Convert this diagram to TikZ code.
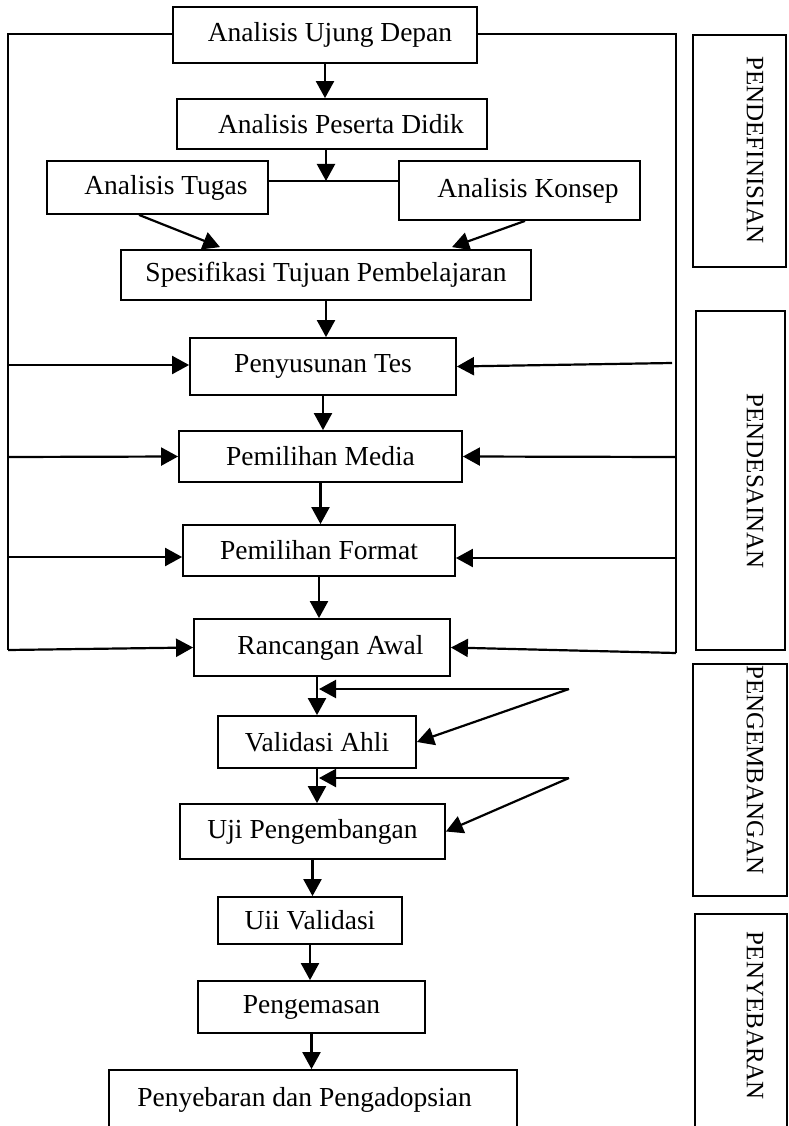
\documentclass[tikz,border=0pt]{standalone}
\usepackage{fontspec}
\setmainfont{Liberation Serif}
\usetikzlibrary{arrows.meta}
\begin{document}
\begin{tikzpicture}[x=1pt,y=-1pt,
  box/.style={draw, line width=1.8pt, inner sep=0pt, font=\fontsize{27.5}{33}\selectfont},
  side/.style={draw, line width=1.6pt, inner sep=0pt},
  lbl/.style={rotate=-90, font=\fontsize{25}{30}\selectfont, inner sep=0pt},
  arr/.style={line width=2.2pt, -{Triangle[length=17pt,width=18pt]}},
  ln/.style={line width=2.2pt}]
\useasboundingbox (0,0) rectangle (789,1126);

% main boxes
\node[box, minimum width=304pt, minimum height=56pt] (ud) at (325,35) {\hspace*{10pt}Analisis Ujung Depan};
\node[box, minimum width=310pt, minimum height=50pt] (pd) at (332,124) {\hspace*{18pt}Analisis Peserta Didik};
\node[box, minimum width=221pt, minimum height=53pt] (tg) at (157.5,187.5) {\hspace*{17pt}Analisis Tugas};
\node[box, minimum width=241pt, minimum height=59pt] (ks) at (519.5,190.5) {\hspace*{17pt}Analisis Konsep};
\node[box, minimum width=410pt, minimum height=50pt] (sp) at (326,275) {Spesifikasi Tujuan Pembelajaran};
\node[box, minimum width=266pt, minimum height=57pt] (pt) at (323,366.5) {Penyusunan Tes};
\node[box, minimum width=283pt, minimum height=51pt] (pm) at (320.5,456.5) {Pemilihan Media};
\node[box, minimum width=272pt, minimum height=51pt] (pf) at (319,550.5) {Pemilihan Format};
\node[box, minimum width=256pt, minimum height=57pt] (ra) at (322,647.5) {\hspace*{17pt}Rancangan Awal};
\node[box, minimum width=198pt, minimum height=52pt] (va) at (317,742) {Validasi Ahli};
\node[box, minimum width=265pt, minimum height=55pt] (up) at (312.5,831.5) {Uji Pengembangan};
\node[box, minimum width=184pt, minimum height=47pt] (uv) at (310,920.5) {Uii Validasi};
\node[box, minimum width=227pt, minimum height=52pt] (pg) at (311.5,1007) {Pengemasan};
\node[box, minimum width=408pt, minimum height=60pt] (pp) at (313,1100) {Penyebaran dan Pengadopsian\hspace*{17pt}};

% side boxes
\node[side, minimum width=93pt, minimum height=232pt] (s1) at (739.5,151) {};
\node[side, minimum width=89pt, minimum height=339pt] (s2) at (740.5,480.5) {};
\node[side, minimum width=94pt, minimum height=232pt] (s3) at (740,780) {};
\node[side, minimum width=92pt, minimum height=226pt] (s4) at (741,1027) {};
\node[lbl] (t1) at (755,150) {PENDEFINISIAN};
\node[lbl] (t2) at (755,481) {PENDESAINAN};
\node[lbl] (t3) at (755,770) {PENGEMBANGAN};
\node[lbl] (t4) at (755,1016) {PENYEBARAN};

% frame lines
\coordinate (TL) at (8,34);
\coordinate (BL) at (8,650);
\coordinate (TR) at (676,34);
\coordinate (BR) at (676,653);
\draw[ln] (ud.west |- TL) -- (TL) -- (BL);
\draw[ln] (ud.east |- TR) -- (TR) -- (BR);

% left arrows
\coordinate (L1) at (8,365);
\coordinate (L2) at (8,457);
\coordinate (L3) at (8,557);
\draw[arr] (L1) -- (L1 -| pt.west);
\draw[arr] (L2) -- (pm.west);
\draw[arr] (L3) -- (L3 -| pf.west);
\draw[arr] (BL) -- (ra.west);

% right arrows
\coordinate (R1) at (672,363);
\coordinate (R2) at (676,457);
\coordinate (R3) at (676,558);
\draw[arr] (R1) -- (pt.east);
\draw[arr] (R2) -- (pm.east);
\draw[arr] (R3) -- (R3 -| pf.east);
\draw[arr] (BR) -- (ra.east);

% top flow
\draw[arr] (ud.south) -- (ud.south |- pd.north);
\coordinate (J) at (326,181);
\draw[ln] (tg.east |- J) -- (ks.west |- J);
\draw[arr] (pd.south -| J) -- (J);
\draw[arr] ([xshift=-18.5pt]tg.south) -- ([xshift=-106pt,yshift=2pt]sp.north);
\draw[arr] ([xshift=5.5pt]ks.south) -- ([xshift=126pt,yshift=2pt]sp.north);
\draw[arr] (sp.south) -- (sp.south |- pt.north);
\draw[arr] (pt.south) -- (pt.south |- pm.north);
\draw[arr] (pm.south) -- (pm.south |- pf.north);
\draw[arr] (pf.south) -- (pf.south |- ra.north);
\draw[arr] (va.north |- ra.south) -- (va.north);

% feedback to validasi
\coordinate (F1) at (569,689);
\draw[arr] (F1) -- ([xshift=2pt]va.north |- F1);
\draw[arr] (F1) -- (va.east);
\draw[arr] (va.south) -- (va.south |- up.north);
\coordinate (F2) at (569,778);
\draw[arr] (F2) -- ([xshift=2pt]va.south |- F2);
\draw[arr] (F2) -- (up.east);

% bottom flow
\draw[arr] (up.south) -- (up.south |- uv.north);
\draw[arr] (uv.south) -- (uv.south |- pg.north);
\draw[arr] (pg.south) -- (pg.south |- pp.north);
\end{tikzpicture}
\end{document}
